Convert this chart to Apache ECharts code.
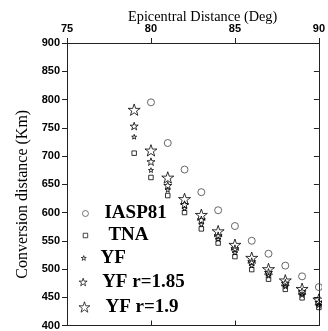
<!DOCTYPE html>
<html>
<head>
<meta charset="utf-8">
<script src="https://cdn.jsdelivr.net/npm/echarts@6/dist/echarts.min.js"></script>
<style>html,body{margin:0;padding:0;background:#fff}#c{width:328px;height:331px}</style>
</head>
<body>
<div id="c"></div>
<script>
// Data
var distances = [79, 80, 81, 82, 83, 84, 85, 86, 87, 88, 89, 90];
var iaspDistances = [80, 81, 82, 83, 84, 85, 86, 87, 88, 89, 90];
var iasp81 = [795, 723, 676, 636, 604, 576, 550, 527, 506, 487, 468];
var tna    = [705, 662, 630, 600, 571, 546, 522, 499, 482, 464, 449, 432];
var yf     = [734, 675, 640, 607, 579, 553, 529, 506, 488, 469, 454, 436];
var yf185  = [753, 690, 648, 614, 587, 559, 536, 513, 494, 475, 460, 441];
var yf19   = [782, 710, 662, 624, 596, 567, 543, 520, 500, 480, 465, 446];
var seriesNames = ['IASP81', 'TNA', 'YF', 'YF r=1.85', 'YF r=1.9'];
var xTitle = 'Epicentral Distance (Deg)';
var yTitle = 'Conversion distance (Km)';

var STAR = 'path://M50 0 L61.8 35.3 L97.6 34.5 L69.1 56.2 L79.4 90.5 L50 70 L20.6 90.5 L30.9 56.2 L2.4 34.5 L38.2 35.3 Z';

function pairs(xs, ys) { return xs.map(function (x, i) { return [x, ys[i]]; }); }

var serif = 'Liberation Serif, Times New Roman, serif';
var sans = 'Liberation Sans, Arial, sans-serif';

function mk(name, xs, ys, symbol, size, color) {
  return {
    name: name, type: 'scatter', xAxisIndex: 0, yAxisIndex: 0,
    data: pairs(xs, ys), symbol: symbol, symbolSize: size,
    symbolKeepAspect: true,
    itemStyle: { color: 'rgba(0,0,0,0)', borderColor: color, borderWidth: 1 },
    emphasis: { disabled: true }, silent: true
  };
}

function lg(name, left, top, s, padLeft, color) {
  return {
    data: [name], left: left, top: top, padding: 0, itemWidth: s, itemHeight: s,
    orient: 'vertical', selectedMode: false,
    itemStyle: { color: 'rgba(0,0,0,0)', borderColor: color, borderWidth: 0.9 },
    textStyle: { fontFamily: serif, fontWeight: 'bold', fontSize: 19, color: '#000', lineHeight: 20, padding: [0, 0, 0, padLeft] }
  };
}

var axisLine = { show: true, lineStyle: { color: '#222', width: 1 } };

var chart = echarts.init(document.getElementById('c'), null, { renderer: 'canvas' });
chart.setOption({
  backgroundColor: '#fff',
  animation: false,
  title: {
    text: xTitle, left: 128, top: 9, padding: 0,
    textStyle: { fontFamily: serif, fontWeight: 'normal', fontSize: 14.3, color: '#000', lineHeight: 16 }
  },
  grid: { left: 67, right: 7, top: 43, bottom: 5 },
  xAxis: [{
    type: 'value', position: 'top', min: 75, max: 90, interval: 5,
    axisLine: axisLine,
    axisTick: { show: true, inside: false, length: 5, lineStyle: { color: '#222' } },
    axisLabel: { fontFamily: sans, fontWeight: 'bold', fontSize: 11, color: '#000', margin: 9 },
    splitLine: { show: false }
  }, {
    type: 'value', position: 'bottom', min: 75, max: 90, interval: 5,
    axisLine: axisLine,
    axisTick: { show: true, inside: true, length: 5, lineStyle: { color: '#222' } },
    axisLabel: { show: false }, splitLine: { show: false }
  }],
  yAxis: [{
    type: 'value', position: 'left', min: 400, max: 900, interval: 50,
    name: yTitle, nameLocation: 'middle', nameGap: 32,
    nameTextStyle: { fontFamily: serif, fontSize: 16, color: '#000', padding: [0, 20, 0, 0] },
    axisLine: axisLine,
    axisTick: { show: true, inside: false, length: 5, lineStyle: { color: '#222' } },
    axisLabel: { fontFamily: sans, fontWeight: 'bold', fontSize: 11, color: '#000', margin: 7 },
    splitLine: { show: false }
  }, {
    type: 'value', position: 'right', min: 400, max: 900, interval: 50,
    axisLine: axisLine,
    axisTick: { show: true, inside: true, length: 5, lineStyle: { color: '#222' } },
    axisLabel: { show: false }, splitLine: { show: false }
  }],
  legend: [
    lg(seriesNames[0], 82, 203.5, 6, 11, '#444'),
    lg(seriesNames[1], 82.75, 225.5, 4.5, 15.75, '#000'),
    lg(seriesNames[2], 80.8, 248, 5, 9.2, '#000'),
    lg(seriesNames[3], 78.7, 272, 8, 10, '#000'),
    lg(seriesNames[4], 78.5, 297, 11, 10.5, '#000')
  ],
  series: [
    mk(seriesNames[0], iaspDistances, iasp81, 'circle', 7, '#444'),
    mk(seriesNames[1], distances, tna, 'rect', 4.5, '#000'),
    mk(seriesNames[2], distances, yf, STAR, 5, '#000'),
    mk(seriesNames[3], distances, yf185, STAR, 8, '#000'),
    mk(seriesNames[4], distances, yf19, STAR, 12, '#000')
  ],
  graphic: [{
    type: 'rect', left: 322, top: 44, z: 100,
    shape: { width: 6, height: 281 }, style: { fill: '#fff' }, silent: true
  }]
});
</script>
</body>
</html>
